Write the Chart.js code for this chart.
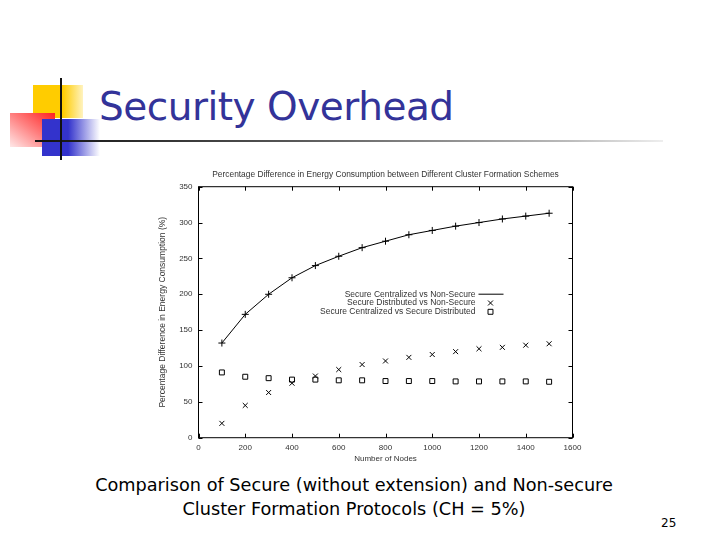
<!DOCTYPE html>
<html>
<head>
<meta charset="utf-8">
<title>Security Overhead</title>
<script src="https://cdn.jsdelivr.net/npm/chart.js@4.4.1/dist/chart.umd.min.js"></script>
<style>
    html, body { margin: 0; padding: 0; background: #fff; }
    body { width: 720px; height: 540px; position: relative; overflow: hidden; font-family: "DejaVu Sans", Verdana, sans-serif; }
    .deco { position: absolute; }
    #sq-yellow { left: 33px; top: 85px; width: 50px; height: 33px; background: linear-gradient(to right, #ffcc00 0%, #ffcc00 60%, #fff3c0 100%); }
    #sq-blue { left: 42px; top: 119px; width: 58px; height: 37px; background: linear-gradient(to right, #3333cc 0%, #3333cc 45%, #ffffff 100%); }
    #sq-red { left: 10px; top: 113px; width: 45px; height: 34px; background: linear-gradient(to bottom left, #ff2020 0%, #ff8080 50%, #ffe8e8 100%); }
    #line-v { left: 60px; top: 78px; width: 2px; height: 82px; background: #111; }
    #line-h { left: 35px; top: 140px; width: 628px; height: 2px; background: linear-gradient(to right, #111 0%, #555 40%, #bbb 85%, #eee 100%); }
    #slide-title { position: absolute; left: 99px; top: 84px; font-size: 39px; color: #333399; white-space: nowrap; letter-spacing: -0.5px; }
    #caption { position: absolute; left: 0; width: 708px; top: 473px; text-align: center; font-size: 17.7px; line-height: 24px; color: #000; }
    #page-num { position: absolute; left: 661px; top: 516px; font-size: 12px; color: #000; }
    #chart-box { position: absolute; left: 150px; top: 160px; width: 471px; height: 310px; }
</style>
</head>
<body>
<div class="deco" id="sq-yellow"></div>
<div class="deco" id="sq-red"></div>
<div class="deco" id="sq-blue"></div>
<div class="deco" id="line-h"></div>
<div class="deco" id="line-v"></div>
<div id="slide-title">Security Overhead</div>

<div id="chart-box"><canvas id="overheadChart" width="471" height="310"></canvas></div>

<div id="caption">Comparison of Secure (without extension) and Non-secure<br>Cluster Formation Protocols (CH = 5%)</div>
<div id="page-num">25</div>

<script>
// --- Data ---
const nodeCounts = [100, 200, 300, 400, 500, 600, 700, 800, 900, 1000, 1100, 1200, 1300, 1400, 1500];
const centralVsNonSecure = [132, 172, 200, 223, 240, 253, 265, 274, 283, 289, 295, 300, 305, 309, 313];
const distribVsNonSecure = [20, 45, 63, 76, 86, 95, 102, 107, 112, 116, 120, 124, 126, 129, 131];
const centralVsDistrib = [91, 85, 83, 81, 81, 80, 80, 79, 79, 79, 78.5, 78.5, 78.5, 78.5, 78];
const seriesLabels = [
    'Secure Centralized vs Non-Secure',
    'Secure Distributed vs Non-Secure',
    'Secure Centralized vs Secure Distributed'
];
const xTicks = [0, 200, 400, 600, 800, 1000, 1200, 1400, 1600];
const yTicks = [0, 50, 100, 150, 200, 250, 300, 350];
const chartTitle = 'Percentage Difference in Energy Consumption between Different Cluster Formation Schemes';

document.addEventListener('DOMContentLoaded', () => {

    const plotFont = 'Liberation Sans, Arial, sans-serif';
    const textColor = '#333';

    function toPoints(values) {
        return nodeCounts.map((n, i) => ({ x: n, y: values[i] }));
    }

    // --- gnuplot style frame, inward ticks, title and key ---
    const gnuplotFrame = {
        id: 'gnuplotFrame',
        afterDatasetsDraw(chart) {
            const { ctx, chartArea: a, scales: { x, y } } = chart;
            ctx.save();
            ctx.strokeStyle = '#000';
            ctx.lineWidth = 1;
            ctx.strokeRect(a.left, a.top, a.right - a.left, a.bottom - a.top);

            ctx.beginPath();
            const tl = 4;
            xTicks.forEach(v => {
                const px = Math.round(x.getPixelForValue(v)) + 0.5;
                ctx.moveTo(px, a.bottom); ctx.lineTo(px, a.bottom - tl);
                ctx.moveTo(px, a.top); ctx.lineTo(px, a.top + tl);
            });
            yTicks.forEach(v => {
                const py = Math.round(y.getPixelForValue(v)) + 0.5;
                ctx.moveTo(a.left, py); ctx.lineTo(a.left + tl, py);
                ctx.moveTo(a.right, py); ctx.lineTo(a.right - tl, py);
            });
            ctx.stroke();

            // chart title
            ctx.fillStyle = textColor;
            ctx.font = '8.4px ' + plotFont;
            ctx.textAlign = 'center';
            ctx.textBaseline = 'middle';
            ctx.fillText(chartTitle, (a.left + a.right) / 2, a.top - 12);

            // key, top right inside the plot
            const keyRight = a.right - 97;
            const sampleX = keyRight + 15;
            ctx.font = '8.5px ' + plotFont;
            ctx.textAlign = 'right';
            seriesLabels.forEach((label, i) => {
                const ky = a.top + 107.5 + i * 8.8;
                ctx.fillStyle = textColor;
                ctx.fillText(label, keyRight, ky);
                const ds = chart.data.datasets[i];
                if (i === 0) {
                    ctx.beginPath();
                    ctx.moveTo(keyRight + 3, ky); ctx.lineTo(keyRight + 28, ky);
                    ctx.stroke();
                } else {
                    ctx.fillStyle = 'rgba(0,0,0,0)';
                    Chart.helpers.drawPoint(ctx, {
                        pointStyle: ds.pointStyle, radius: ds.pointRadius,
                        borderWidth: 1, rotation: 0
                    }, sampleX, ky);
                }
            });
            ctx.restore();
        }
    };

    const ctx = document.getElementById('overheadChart').getContext('2d');

    new Chart(ctx, {
        type: 'line',
        data: {
            datasets: [{
                label: seriesLabels[0],
                data: toPoints(centralVsNonSecure),
                borderColor: '#000',
                backgroundColor: 'transparent',
                borderWidth: 1,
                pointStyle: 'cross',
                pointRadius: 3.5,
                pointBorderWidth: 1,
                tension: 0
            }, {
                label: seriesLabels[1],
                data: toPoints(distribVsNonSecure),
                showLine: false,
                borderColor: '#000',
                backgroundColor: 'transparent',
                pointStyle: 'crossRot',
                pointRadius: 3.5,
                pointBorderWidth: 1
            }, {
                label: seriesLabels[2],
                data: toPoints(centralVsDistrib),
                showLine: false,
                borderColor: '#000',
                backgroundColor: 'transparent',
                pointStyle: 'rect',
                pointRadius: 3.5,
                pointBorderWidth: 1
            }]
        },
        options: {
            responsive: false,
            animation: false,
            events: [],
            layout: { padding: { top: 26.7, right: 48.5, left: 0, bottom: 0 } },
            scales: {
                x: {
                    type: 'linear',
                    min: 0, max: 1600,
                    afterBuildTicks: scale => { scale.ticks = xTicks.map(v => ({ value: v })); },
                    afterFit: scale => { scale.height = 32.3; },
                    grid: { display: false, drawTicks: false },
                    border: { display: false },
                    ticks: {
                        color: textColor, font: { family: plotFont, size: 8 }, padding: 5, maxRotation: 0,
                        callback: v => String(v)
                    },
                    title: {
                        display: true, text: 'Number of Nodes', color: textColor,
                        font: { family: plotFont, size: 8 }, padding: { top: 0, bottom: 6 }
                    }
                },
                y: {
                    min: 0, max: 350,
                    afterBuildTicks: scale => { scale.ticks = yTicks.map(v => ({ value: v })); },
                    afterFit: scale => { scale.width = 48.5; },
                    grid: { display: false, drawTicks: false },
                    border: { display: false },
                    ticks: { color: textColor, font: { family: plotFont, size: 8 }, padding: 6 },
                    title: {
                        display: true, text: 'Percentage Difference in Energy Consumption (%)', color: textColor,
                        font: { family: plotFont, size: 8.5 }, padding: { top: 8, bottom: 0 }
                    }
                }
            },
            plugins: {
                legend: { display: false },
                title: { display: false },
                tooltip: { enabled: false }
            }
        },
        plugins: [gnuplotFrame]
    });

}); // End DOMContentLoaded listener
</script>
</body>
</html>
